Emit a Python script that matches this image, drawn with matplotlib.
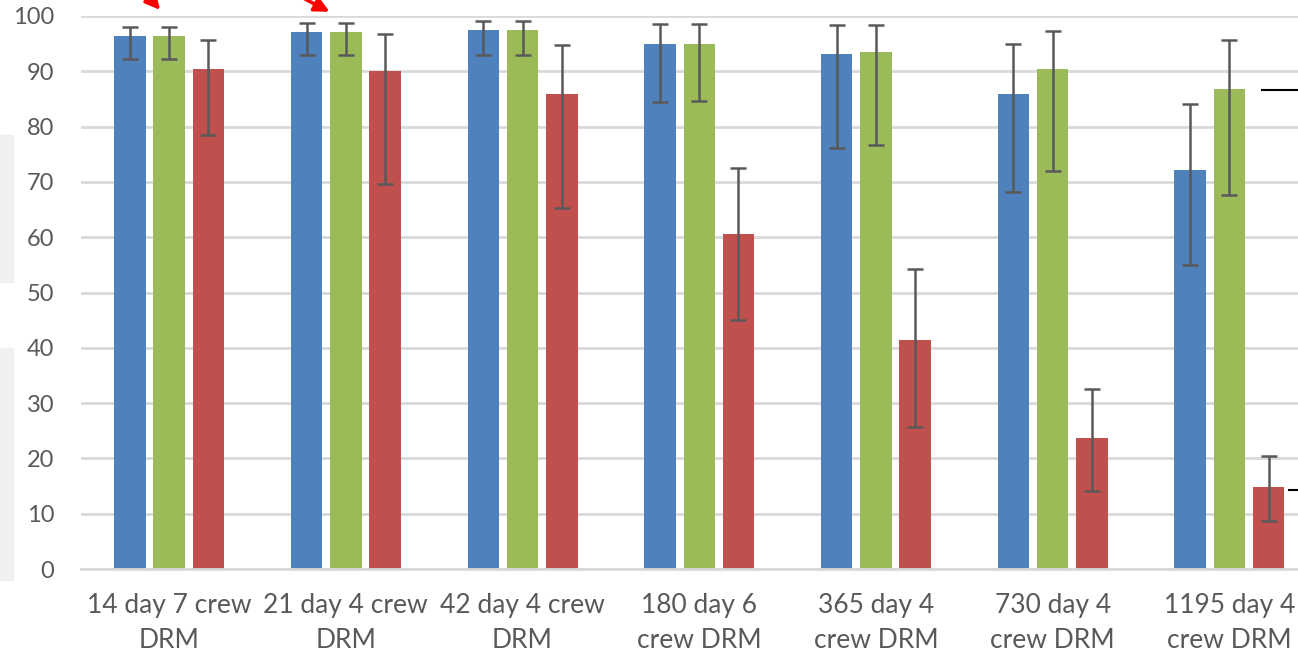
import numpy as np
import matplotlib
matplotlib.use("Agg")
import matplotlib.pyplot as plt
from matplotlib.patches import Rectangle
from matplotlib.lines import Line2D

categories = ["14 day 7 crew\nDRM", "21 day 4 crew\nDRM", "42 day 4 crew\nDRM",
              "180 day 6\ncrew DRM", "365 day 4\ncrew DRM", "730 day 4\ncrew DRM",
              "1195 day 4\ncrew DRM"]

blue = [96.3, 97.1, 97.5, 94.9, 93.1, 85.9, 72.2]
blue_hi = [98.1, 98.8, 99.1, 98.6, 98.3, 95.0, 84.1]
blue_lo = [92.3, 92.9, 92.9, 84.4, 76.2, 68.2, 55.0]

green = [96.3, 97.1, 97.5, 94.9, 93.5, 90.4, 86.8]
green_hi = [98.1, 98.8, 99.1, 98.6, 98.3, 97.3, 95.7]
green_lo = [92.3, 92.9, 92.9, 84.7, 76.7, 72.0, 67.6]

red = [90.4, 90.0, 85.9, 60.6, 41.5, 23.7, 14.8]
red_hi = [95.7, 96.7, 94.8, 72.6, 54.3, 32.6, 20.5]
red_lo = [78.5, 69.7, 65.3, 45.0, 25.7, 14.1, 8.6]

yticks = [0, 10, 20, 30, 40, 50, 60, 70, 80, 90, 100]

plt.rcParams['font.family'] = ['Lato', 'DejaVu Sans']

W, H = 1298, 656
fig = plt.figure(figsize=(W / 100, H / 100), dpi=100)
# axes runs past the right edge, the reference is a cropped screenshot
ax = fig.add_axes([80.8 / W, 87 / H, 1236.9 / W, 553 / H])

x = np.arange(len(categories))
bw = 0.178
off = 0.222
series = [(blue, blue_lo, blue_hi, "#4F81BD", -off),
          (green, green_lo, green_hi, "#9BBB59", 0),
          (red, red_lo, red_hi, "#C0504D", off)]

for vals, lo, hi, col, dx in series:
    vals = np.array(vals)
    err = [vals - np.array(lo), np.array(hi) - vals]
    ax.bar(x + dx, vals, bw, color=col, zorder=2)
    ax.errorbar(x + dx, vals, yerr=err, fmt="none", ecolor="#595959",
                elinewidth=1.8, capsize=5.8, capthick=1.8, zorder=3)

ax.set_xlim(-0.5, len(categories) - 0.5)
ax.set_ylim(0, 100)
ax.set_yticks(yticks)
ax.set_xticks(x)
ax.set_xticklabels(categories, linespacing=1.5)
ax.grid(axis="y", color="#D9D9D9", linewidth=2, zorder=0)
ax.set_axisbelow(True)
for s in ["top", "right", "left"]:
    ax.spines[s].set_visible(False)
ax.spines["bottom"].set_color("#D9D9D9")
ax.spines["bottom"].set_linewidth(2)
ax.tick_params(axis="both", length=0, labelcolor="#595959")
ax.tick_params(axis="y", pad=19, labelsize=17)
ax.tick_params(axis="x", pad=17, labelsize=19)

# screenshot leftovers around the chart
def px(xp, yp):
    return xp / W, 1 - yp / H

fig.patches.append(Rectangle(px(0, 282), 12.7 / W, 147 / H, transform=fig.transFigure,
                             color="#F0F0F0", zorder=0))
fig.patches.append(Rectangle(px(0, 580), 12.7 / W, 232 / H, transform=fig.transFigure,
                             color="#F0F0F0", zorder=0))
fig.lines.append(Line2D([1262 / W, 1], [1 - 90 / H] * 2, transform=fig.transFigure,
                        color="black", linewidth=1.5))
fig.lines.append(Line2D([1289 / W, 1], [1 - 490 / H] * 2, transform=fig.transFigure,
                        color="black", linewidth=1.5))
ax.annotate("", xy=px(162, 12), xytext=px(148, -4), xycoords="figure fraction",
            arrowprops=dict(arrowstyle="-|>", color="red", lw=2.5, mutation_scale=22),
            annotation_clip=False)
ax.annotate("", xy=px(332, 13), xytext=px(303, -2), xycoords="figure fraction",
            arrowprops=dict(arrowstyle="-|>", color="red", lw=2.5, mutation_scale=22),
            annotation_clip=False)

fig.savefig("out.png", dpi=100)
